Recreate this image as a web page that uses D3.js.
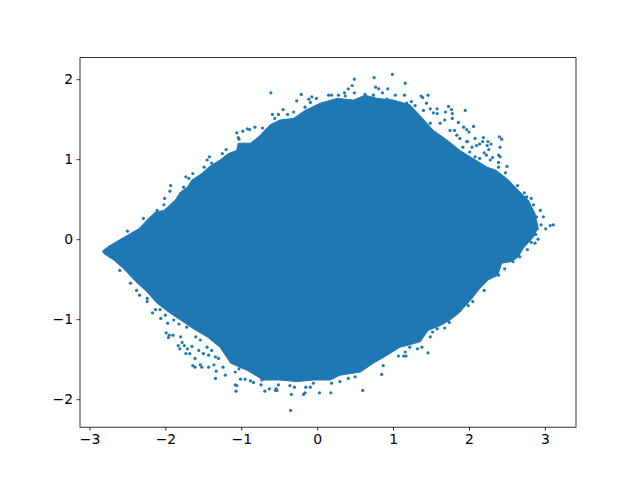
<!DOCTYPE html>
<html><head><meta charset="utf-8">
<script src="https://cdn.jsdelivr.net/npm/d3@7"></script>
<style>html,body{margin:0;padding:0;background:#fff}svg{display:block}</style>
</head><body><svg id="c" width="640" height="480"></svg>
<script>
const xTicks=[-3,-2,-1,0,1,2,3];
const yTicks=[-2,-1,0,1,2];
const xDomain=[-3.125,3.41];
const yDomain=[-2.35,2.27];
// outline of the solid, saturated body of the cloud
const bodyOutline=[[-2.83,-0.15],[-2.75,-0.09],[-2.66,-0.04],[-2.57,0.01],[-2.46,0.07],[-2.35,0.13],[-2.22,0.26],[-2.13,0.34],[-2.02,0.36],[-1.87,0.49],[-1.80,0.59],[-1.71,0.65],[-1.65,0.74],[-1.52,0.82],[-1.43,0.90],[-1.28,0.99],[-1.17,1.07],[-1.06,1.11],[-1.04,1.20],[-0.88,1.20],[-0.77,1.28],[-0.62,1.43],[-0.49,1.49],[-0.31,1.51],[-0.16,1.61],[0.04,1.70],[0.26,1.76],[0.48,1.74],[0.63,1.80],[0.79,1.76],[1.00,1.74],[1.22,1.68],[1.36,1.54],[1.53,1.36],[1.71,1.24],[1.88,1.11],[2.24,0.90],[2.36,0.86],[2.52,0.74],[2.63,0.63],[2.78,0.49],[2.87,0.32],[2.91,0.15],[2.85,0.03],[2.71,-0.12],[2.65,-0.22],[2.56,-0.28],[2.43,-0.30],[2.38,-0.45],[2.25,-0.51],[2.12,-0.64],[2.04,-0.74],[1.86,-0.93],[1.75,-1.01],[1.62,-1.08],[1.46,-1.14],[1.36,-1.28],[1.18,-1.33],[1.09,-1.35],[0.92,-1.45],[0.74,-1.55],[0.57,-1.66],[0.30,-1.70],[0.17,-1.76],[-0.05,-1.76],[-0.27,-1.78],[-0.49,-1.76],[-0.71,-1.76],[-0.92,-1.64],[-1.14,-1.55],[-1.28,-1.35],[-1.45,-1.22],[-1.63,-1.12],[-1.80,-1.01],[-1.93,-0.93],[-2.11,-0.80],[-2.24,-0.66],[-2.39,-0.53],[-2.55,-0.37],[-2.68,-0.26],[-2.81,-0.18]];
// individually visible points outside the body
const topPoints=[[-0.61,1.83],[-0.21,1.81],[0.49,2.00],[0.75,2.02],[0.99,2.06],[1.16,1.95],[0.46,1.92],[0.41,1.88],[0.77,1.90],[0.81,1.88],[0.93,1.88],[0.36,1.83],[0.49,1.83],[0.86,1.83],[1.15,1.80],[1.03,1.80],[-0.07,1.78],[-0.01,1.76],[-0.11,1.75],[-0.27,1.73],[0.15,1.80],[0.19,1.80],[0.28,1.80],[0.37,1.79],[0.63,1.81],[0.74,1.80],[0.92,1.75],[-0.45,1.62],[-0.51,1.56],[-0.59,1.56],[-0.39,1.56],[-0.56,1.51],[-0.82,1.40],[-0.72,1.39],[-0.98,1.35],[-1.06,1.33],[-0.92,1.38],[-0.89,1.37],[-1.03,1.25],[-0.09,1.71],[-0.16,1.65],[-0.31,1.59]];
const upperLeftPoints=[[-1.93,0.67],[-1.94,0.60],[-2.50,0.10],[-2.29,0.26],[-2.01,0.51],[-1.64,0.82],[-1.73,0.78],[-1.42,1.03],[-1.45,0.99],[-1.39,0.95],[-1.49,0.90],[-1.69,0.76],[-2.11,0.36],[-1.76,0.65],[-1.80,0.57],[-1.20,1.12],[-1.25,1.07],[-1.04,1.27],[-2.02,0.43],[-2.42,0.07]];
const upperRightPoints=[[1.37,1.79],[1.46,1.80],[1.39,1.77],[1.44,1.70],[1.24,1.72],[1.73,1.66],[1.77,1.62],[1.95,1.61],[1.58,1.63],[1.78,1.57],[1.69,1.59],[1.78,1.51],[1.86,1.46],[2.06,1.41],[1.93,1.40],[1.97,1.37],[2.00,1.34],[2.08,1.26],[2.19,1.27],[2.40,1.28],[2.43,1.25],[2.25,1.22],[2.29,1.19],[2.18,1.22],[1.98,1.22],[2.24,1.17],[2.41,1.15],[2.14,1.19],[2.26,1.12],[2.39,1.05],[2.20,1.08],[2.41,1.03],[2.31,1.02],[2.39,0.96],[2.50,0.91],[2.39,0.90],[2.48,0.83],[2.64,0.67],[2.73,0.58],[2.82,0.51],[2.76,0.53],[2.85,0.43],[2.94,0.36],[2.98,0.28],[2.89,0.28],[3.11,0.18],[3.07,0.17],[3.01,0.13],[2.95,0.18],[2.91,0.00],[2.87,-0.05],[2.82,-0.04],[2.77,-0.13],[2.90,0.13],[2.88,0.06]];
const upperRightFringe=[[1.18,1.70],[1.24,1.61],[1.29,1.67],[1.40,1.61],[1.49,1.63],[1.53,1.58],[1.58,1.57],[1.35,1.49],[1.49,1.45],[1.62,1.45],[1.68,1.49],[1.75,1.36],[1.81,1.36],[1.88,1.26],[1.97,1.22],[2.04,1.15],[2.10,1.17],[1.84,1.30],[1.92,1.15],[2.08,1.03],[2.14,1.01],[2.23,1.05],[2.28,0.99],[2.01,1.09]];
const lowerRightPoints=[[2.20,-0.64],[1.99,-0.83],[1.88,-0.89],[1.74,-1.04],[1.68,-1.11],[1.58,-1.12],[1.52,-1.16],[1.49,-1.22],[1.46,-1.42],[1.38,-1.35],[1.32,-1.37],[1.16,-1.41],[1.14,-1.46],[1.17,-1.46],[1.22,-1.35],[2.39,-0.45],[2.47,-0.37],[2.67,-0.22],[2.58,-0.28],[2.05,-0.78]];
const bottomPoints=[[-0.35,-2.14],[0.60,-1.89],[0.85,-1.69],[0.18,-1.92],[0.03,-1.92],[-0.18,-1.94],[-0.34,-1.94],[-0.16,-1.92],[-1.07,-1.90],[-0.69,-1.90],[-0.63,-1.87],[-0.55,-1.89],[-0.53,-1.89],[-0.54,-1.87],[-0.30,-1.85],[-0.15,-1.85],[-0.09,-1.85],[-1.08,-1.82],[-1.06,-1.83],[-0.84,-1.79],[-0.74,-1.82],[-0.51,-1.82],[-0.36,-1.83],[-0.05,-1.80],[0.19,-1.80],[0.30,-1.78],[0.41,-1.74],[0.50,-1.72],[-1.01,-1.75],[-0.95,-1.75],[-0.88,-1.77],[-0.73,-1.76],[0.87,-1.58],[1.07,-1.46]];
const lowerLeftPoints=[[-1.34,-1.74],[-1.64,-1.58],[-1.61,-1.60],[-1.54,-1.57],[-1.52,-1.60],[-1.43,-1.60],[-1.36,-1.57],[-1.33,-1.65],[-1.21,-1.70],[-1.24,-1.60],[-1.08,-1.66],[-1.73,-1.43],[-1.68,-1.43],[-1.61,-1.49],[-1.83,-1.33],[-1.81,-1.37],[-1.75,-1.33],[-1.71,-1.37],[-1.78,-1.29],[-1.65,-1.34],[-1.95,-1.20],[-1.90,-1.20],[-1.96,-1.23],[-1.99,-1.17],[-1.80,-1.22],[-1.97,-1.05],[-2.17,-0.92],[-2.06,-0.99],[-2.13,-0.88],[-2.34,-0.70],[-2.24,-0.78],[-2.24,-0.74],[-2.38,-0.64],[-2.46,-0.55],[-2.60,-0.39],[-1.56,-1.39],[-1.50,-1.43],[-1.30,-1.49]];
const lowerLeftFringe=[[-1.23,-1.35],[-1.39,-1.39],[-1.45,-1.35],[-1.54,-1.26],[-1.60,-1.22],[-1.72,-1.10],[-1.82,-1.06],[-1.89,-1.01],[-2.00,-0.95],[-2.07,-0.88],[-1.10,-1.49],[-1.01,-1.55],[-1.17,-1.45],[-0.92,-1.58],[-1.03,-1.62],[-1.34,-1.47],[-1.43,-1.45]];

const blue="#1f77b4";
const L=80,R=576,T=57.6,B=427.2;
const x=d3.scaleLinear().domain(xDomain).range([L,R]);
const y=d3.scaleLinear().domain(yDomain).range([B,T]);
const svg=d3.select("#c");
const line=d3.line().x(d=>x(d[0])).y(d=>y(d[1])).curve(d3.curveLinearClosed);
svg.append("path").datum(bodyOutline).attr("d",line).attr("fill",blue).attr("stroke",blue).attr("stroke-width",1);
const pts=[...topPoints,...upperLeftPoints,...upperRightPoints,...upperRightFringe,...lowerRightPoints,...bottomPoints,...lowerLeftPoints,...lowerLeftFringe];
svg.append("g").selectAll("circle").data(pts).join("circle")
 .attr("cx",d=>x(d[0])).attr("cy",d=>y(d[1])).attr("r",1.6).attr("fill",blue);
const style=g=>{g.selectAll("text").attr("font-family","DejaVu Sans").attr("font-size","13.9px").attr("fill","#000");
 g.selectAll(".tick line").attr("stroke","#000").attr("stroke-width",0.8);g.select(".domain").remove();};
const fmt=d3.format("d");
svg.append("g").attr("transform",`translate(0,${B})`)
 .call(d3.axisBottom(x).tickValues(xTicks).tickFormat(fmt).tickSize(3.5).tickPadding(3.5)).call(style);
svg.append("g").attr("transform",`translate(${L},0)`)
 .call(d3.axisLeft(y).tickValues(yTicks).tickFormat(fmt).tickSize(3.5).tickPadding(3.5)).call(style);
svg.append("rect").attr("x",L).attr("y",T).attr("width",R-L).attr("height",B-T)
 .attr("fill","none").attr("stroke","#000").attr("stroke-width",0.8);
</script></body></html>
